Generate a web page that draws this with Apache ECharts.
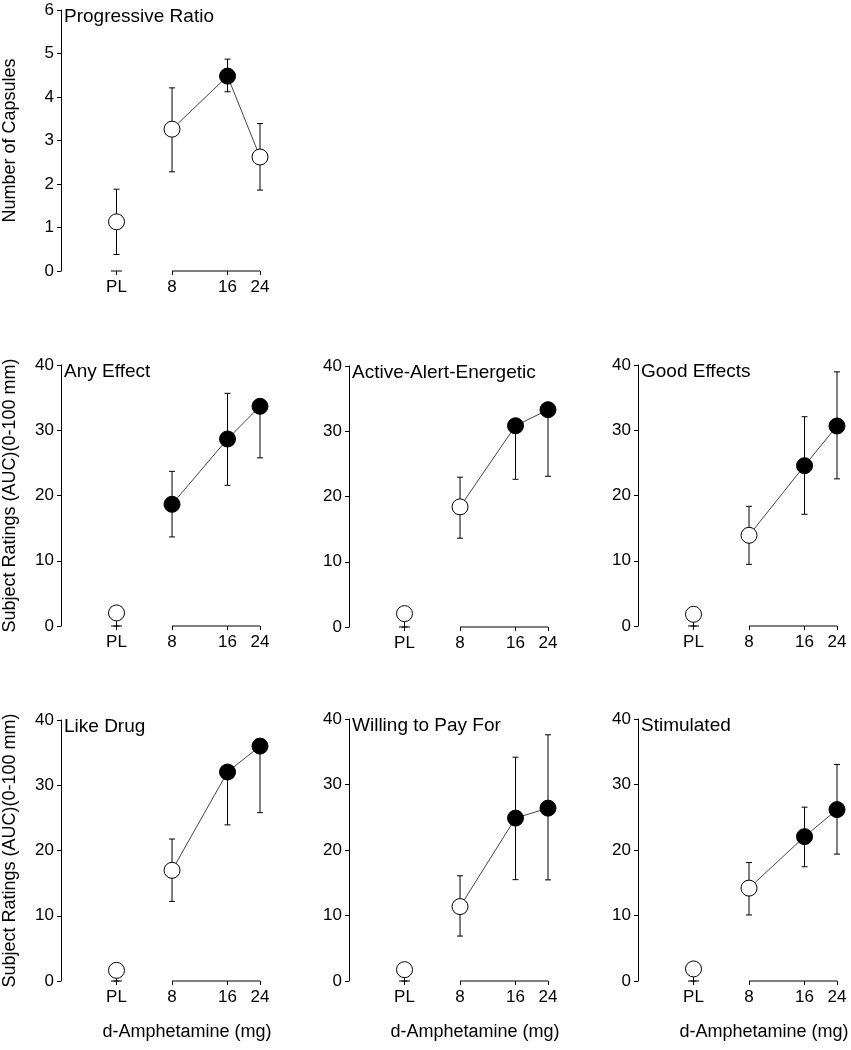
<!DOCTYPE html>
<html><head><meta charset="utf-8">
<script src="https://cdn.jsdelivr.net/npm/echarts@6/dist/echarts.min.js"></script>
<style>html,body{margin:0;padding:0;background:#fff}#c{width:851px;height:1050px}</style>
</head><body><div id="c"></div><script>
// ---------- data ----------
const doseLabels = ['PL', '8', '16', '24'];
const dosePositions = [4, 8, 16, 24];          // PL is drawn one log2 step below 8 mg
const axisSegments = [[4, 4], [8, 24]];        // broken dose axis: PL stub + 8..24

const panelTitles = ['Progressive Ratio', 'Any Effect', 'Active-Alert-Energetic', 'Good Effects',
                     'Like Drug', 'Willing to Pay For', 'Stimulated'];

const capsulesMean  = [1.13, 3.26, 4.48, 2.62];
const capsulesUp    = [0.75, 0.95, 0.39, 0.77];
const capsulesLo    = [0.75, 0.98, 0.36, 0.76];
const capsulesFill  = [0, 0, 1, 0];

const anyEffectMean = [2.0, 18.65, 28.66, 33.67];
const anyEffectUp   = [1.0, 5.05, 7.0, 0];
const anyEffectLo   = [2.0, 5.0, 7.1, 7.9];
const anyEffectFill = [0, 1, 1, 1];

const activeMean = [2.05, 18.41, 30.84, 33.3];
const activeUp   = [1.0, 4.55, 0, 0];
const activeLo   = [2.05, 4.8, 8.2, 10.2];
const activeFill = [0, 0, 1, 1];

const goodMean = [1.79, 13.9, 24.57, 30.65];
const goodUp   = [1.0, 4.44, 7.5, 8.3];
const goodLo   = [1.79, 4.45, 7.45, 8.1];
const goodFill = [0, 0, 1, 1];

const likeMean = [1.63, 16.96, 32.03, 36.0];
const likeUp   = [1.0, 4.8, 0, 0];
const likeLo   = [1.63, 4.76, 8.1, 10.2];
const likeFill = [0, 0, 1, 1];

const payMean = [1.73, 11.36, 24.87, 26.39];
const payUp   = [1.0, 4.7, 9.3, 11.2];
const payLo   = [1.73, 4.5, 9.4, 10.95];
const payFill = [0, 0, 1, 1];

const stimMean = [1.84, 14.18, 22.04, 26.17];
const stimUp   = [1.0, 3.9, 4.5, 6.9];
const stimLo   = [1.84, 4.1, 4.6, 6.8];
const stimFill = [0, 0, 1, 1];

const capsuleTicks = [0, 6, 1];   // min, max, interval
const ratingTicks  = [0, 40, 10];

const yNameCapsules = 'Number of Capsules';
const yNameRatings  = 'Subject Ratings (AUC)(0-100 mm)';
const xName = 'd-Amphetamine (mg)';

// ---------- layout ----------
const FONT = '"Liberation Sans", Arial, Helvetica, sans-serif';
const layout = [
  {left: 61,  top: 10,  height: 261},
  {left: 61,  top: 365, height: 261},
  {left: 349, top: 366, height: 261},
  {left: 638, top: 365, height: 261},
  {left: 61,  top: 720, height: 261},
  {left: 349, top: 719, height: 262},
  {left: 638, top: 719, height: 262}
];
const GRID_W = 199;

const panels = [
  {mean: capsulesMean,  up: capsulesUp,  lo: capsulesLo,  fill: capsulesFill,  ticks: capsuleTicks, yName: yNameCapsules, xName: false},
  {mean: anyEffectMean, up: anyEffectUp, lo: anyEffectLo, fill: anyEffectFill, ticks: ratingTicks,  yName: yNameRatings,  xName: false},
  {mean: activeMean,    up: activeUp,    lo: activeLo,    fill: activeFill,    ticks: ratingTicks,  yName: '',            xName: false},
  {mean: goodMean,      up: goodUp,      lo: goodLo,      fill: goodFill,      ticks: ratingTicks,  yName: '',            xName: false},
  {mean: likeMean,      up: likeUp,      lo: likeLo,      fill: likeFill,      ticks: ratingTicks,  yName: yNameRatings,  xName: true},
  {mean: payMean,       up: payUp,       lo: payLo,       fill: payFill,       ticks: ratingTicks,  yName: '',            xName: true},
  {mean: stimMean,      up: stimUp,      lo: stimLo,      fill: stimFill,      ticks: ratingTicks,  yName: '',            xName: true}
];

const grids = [], xAxes = [], yAxes = [], series = [], graphics = [];

panels.forEach((p, i) => {
  const L = layout[i];
  grids.push({left: L.left, top: L.top, width: GRID_W, height: L.height});
  xAxes.push({
    gridIndex: i, type: 'log', logBase: 2, min: 2, max: 24,
    axisLine: {show: false},
    splitLine: {show: false},
    minorTick: {show: false},
    axisTick: {show: true, customValues: dosePositions, length: 4, lineStyle: {color: '#000', width: 1}},
    axisLabel: {
      customValues: dosePositions, margin: 8, fontSize: 17, color: '#000', fontFamily: FONT,
      formatter: v => { const k = dosePositions.findIndex(d => Math.abs(d - v) < 0.01); return k >= 0 ? doseLabels[k] : ''; }
    }
  });
  yAxes.push({
    gridIndex: i, type: 'value', min: p.ticks[0], max: p.ticks[1], interval: p.ticks[2],
    axisLine: {show: true, onZero: false, lineStyle: {color: '#000', width: 1}},
    axisTick: {show: true, length: 4, lineStyle: {color: '#000', width: 1}},
    axisLabel: {fontSize: 17, color: '#000', margin: 7, fontFamily: FONT},
    splitLine: {show: false},
    name: p.yName, nameLocation: 'middle', nameGap: 42,
    nameTextStyle: {fontSize: 18, color: '#000', fontFamily: FONT}
  });

  // broken x axis
  series.push({
    type: 'custom', xAxisIndex: i, yAxisIndex: i, silent: true, z: 1,
    encode: {x: [0, 1], y: 2},
    data: axisSegments.map(s => [s[0], s[1], 0]),
    renderItem: (params, api) => {
      const a = api.coord([api.value(0), 0]);
      const b = api.coord([api.value(1), 0]);
      let x1 = a[0], x2 = b[0];
      if (api.value(0) === api.value(1)) { x1 -= 5.5; x2 += 5.5; }
      return {type: 'line', shape: {x1: x1, y1: a[1], x2: x2, y2: b[1]},
              style: {stroke: '#000', lineWidth: 1}};
    }
  });

  // error bars
  series.push({
    type: 'custom', xAxisIndex: i, yAxisIndex: i, silent: true, z: 2,
    encode: {x: 0, y: 1},
    data: p.mean.map((m, j) => [dosePositions[j], m, p.lo[j], p.up[j]]),
    renderItem: (params, api) => {
      const x = api.value(0), y = api.value(1), lo = api.value(2), hi = api.value(3);
      const top = api.coord([x, y + hi]);
      const bot = api.coord([x, y - lo]);
      const st = {stroke: '#000', lineWidth: 1};
      const ch = [{type: 'line', shape: {x1: top[0], y1: top[1], x2: bot[0], y2: bot[1]}, style: st}];
      if (hi > 0) ch.push({type: 'line', shape: {x1: top[0] - 3, y1: top[1], x2: top[0] + 3, y2: top[1]}, style: st});
      if (lo > 0) ch.push({type: 'line', shape: {x1: bot[0] - 3, y1: bot[1], x2: bot[0] + 3, y2: bot[1]}, style: st});
      return {type: 'group', children: ch};
    }
  });

  // connecting line for active doses
  series.push({
    type: 'line', xAxisIndex: i, yAxisIndex: i, z: 3, symbol: 'none', silent: true,
    lineStyle: {color: '#444', width: 1},
    data: p.mean.slice(1).map((m, j) => [dosePositions[j + 1], m])
  });

  // markers
  series.push({
    type: 'scatter', xAxisIndex: i, yAxisIndex: i, z: 5, symbolSize: 16, clip: false,
    data: p.mean.map((m, j) => ({
      value: [dosePositions[j], m],
      itemStyle: p.fill[j] ? {color: '#000', borderColor: '#000', borderWidth: 1, opacity: 1}
                           : {color: '#fff', borderColor: '#000', borderWidth: 1, opacity: 1}
    }))
  });

  graphics.push({
    type: 'text', left: L.left + 3, top: L.top - 3,
    style: {text: panelTitles[i], font: '19px ' + FONT, fill: '#000'}
  });
  if (p.xName) {
    graphics.push({
      type: 'text', x: L.left + 126, y: 1032,
      style: {text: xName, font: '18px ' + FONT, fill: '#000', textAlign: 'center', textVerticalAlign: 'middle'}
    });
  }
});

const chart = echarts.init(document.getElementById('c'), null, {renderer: 'canvas'});
chart.setOption({
  animation: false,
  backgroundColor: '#fff',
  grid: grids, xAxis: xAxes, yAxis: yAxes, series: series, graphic: graphics
});
</script></body></html>
